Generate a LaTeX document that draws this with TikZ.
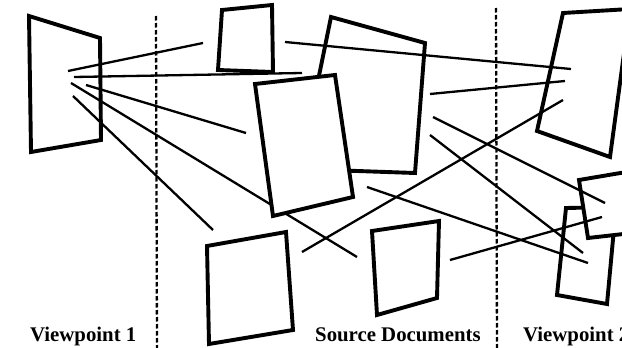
\documentclass[tikz,border=0pt]{standalone}
\usepackage{fontspec}
\setmainfont{Liberation Serif}
\begin{document}
\begin{tikzpicture}[x=1pt,y=-1pt,
  docbox/.style={line width=3.9pt,line join=miter,fill=white},
  ray/.style={line width=2.3pt},
  divider/.style={line width=2.3pt,dash pattern=on 4.5pt off 2.5pt},
  caption/.style={anchor=base west,inner sep=0pt,font=\bfseries\fontsize{20.8}{21}\selectfont}]
\useasboundingbox (0,0) rectangle (622,348);
\clip (0,0) rectangle (622,348);
% dividers
\coordinate (d1t) at (156,16);
\coordinate (d1b) at (157,348);
\coordinate (d2t) at (496,8);
\coordinate (d2b) at (497,348);
\draw[divider] (d1t) -- (d1b);
\draw[divider] (d2t) -- (d2b);
% documents behind
\draw[docbox] (331,17) -- (425,43) -- (415,173) -- (300,169) -- cycle;
\draw[docbox] (566,208) -- (616,207) -- (607,304) -- (557,295) -- cycle;
\draw[docbox] (579,180) -- (650,168) -- (650,231) -- (588,238) -- cycle;
\draw[docbox] (563,13) -- (630,9) -- (610,157) -- (537,131) -- cycle;
\draw[docbox] (222,10) -- (272,5) -- (273,72) -- (218,70) -- cycle;
\draw[docbox] (207,246) -- (286,232) -- (293,330) -- (209,344) -- cycle;
\draw[docbox] (372,231) -- (439,221) -- (437,298) -- (377,315) -- cycle;
\draw[docbox] (29,16) -- (100,38) -- (101,140) -- (31,152) -- cycle;
% ray end points
\coordinate (l1a) at (68,71);   \coordinate (l1b) at (203,43);
\coordinate (l2a) at (74,77);   \coordinate (l2b) at (302,73);
\coordinate (l3a) at (86,85);   \coordinate (l3b) at (246,133);
\coordinate (l4a) at (71,83);   \coordinate (l4b) at (357,257);
\coordinate (l5a) at (73,96);   \coordinate (l5b) at (213,230);
\coordinate (m1a) at (285,42);  \coordinate (m1b) at (571,69);
\coordinate (m2a) at (430,94);  \coordinate (m2b) at (565,81);
\coordinate (m3a) at (433,117); \coordinate (m3b) at (605,203);
\coordinate (m4a) at (430,135); \coordinate (m4b) at (583,253);
\coordinate (m5a) at (367,187); \coordinate (m5b) at (588,263);
\coordinate (m6a) at (450,260); \coordinate (m6b) at (602,217);
\coordinate (m7a) at (302,252); \coordinate (m7b) at (563,100);
\foreach \r in {l1,l2,l3,l4,l5,m1,m2,m3,m4,m5,m6,m7}
  \draw[ray] (\r a) -- (\r b);
% front document
\draw[docbox] (255,84) -- (335,75) -- (353,197) -- (273,216) -- cycle;
% captions
\node[caption] (cap1) at (30,341.5) {Viewpoint 1};
\node[caption] (cap2) at (315,341.5) {Source Documents};
\node[caption] (cap3) at (523,341.5) {Viewpoint 2};
\end{tikzpicture}
\end{document}
